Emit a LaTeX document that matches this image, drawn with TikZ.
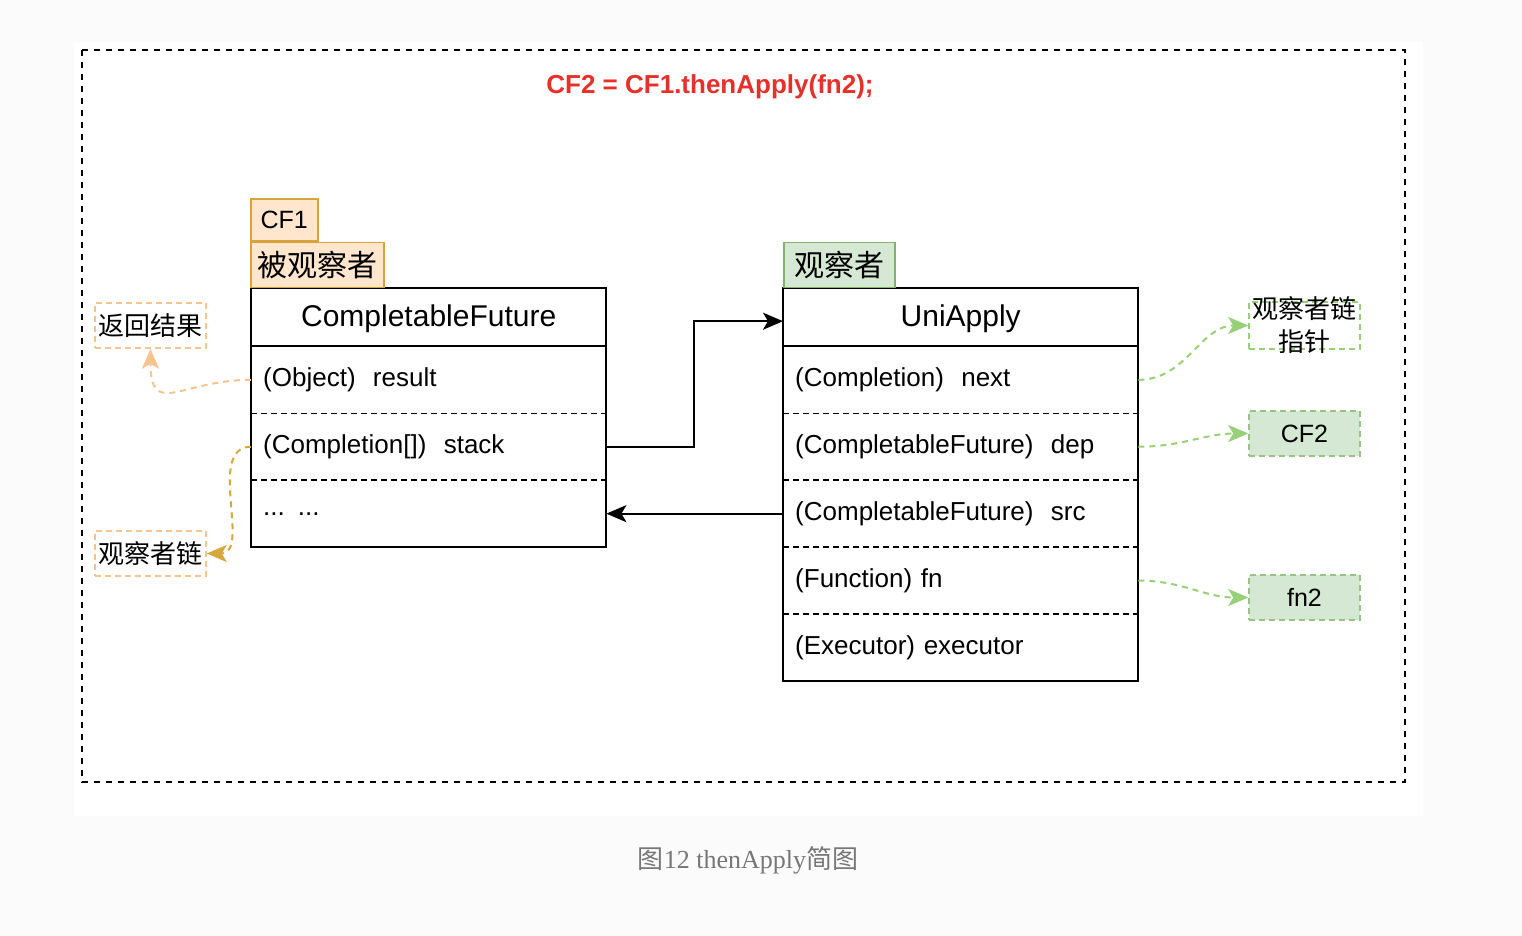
\documentclass[tikz,border=0pt]{standalone}
\usepackage{fontspec}
\setmainfont{Liberation Serif}
\setsansfont{Liberation Sans}
\newfontfamily\cjk{Noto Sans CJK SC}
\usetikzlibrary{arrows.meta,positioning,shapes}
\definecolor{pagebg}{HTML}{FBFBFB}
\definecolor{orfill}{HTML}{FFE6CC}
\definecolor{ordraw}{HTML}{D9A33A}
\definecolor{orlight}{HTML}{F8C48E}
\definecolor{orarrow}{HTML}{D6A83C}
\definecolor{grfill}{HTML}{D5E8D4}
\definecolor{grdraw}{HTML}{82B366}
\definecolor{grlight}{HTML}{97D077}
\definecolor{titred}{HTML}{E8302A}
\definecolor{capgray}{HTML}{777777}

\begin{document}
\begin{tikzpicture}[x=1pt,y=-1pt,>={Stealth[length=20pt,width=17pt,inset=5pt]},
every node/.style={font=\sffamily, inner sep=0pt},
hd/.style={minimum width=355pt, minimum height=58pt, text height=22pt, text depth=4pt,
    font=\sffamily\fontsize{30}{34}\selectfont},
fld/.style={minimum width=355pt, minimum height=66.5pt, text width=331pt,
    align=left, inner xsep=12pt, font=\sffamily\fontsize{26}{30}\selectfont},
sep/.style={line width=1.5pt, dash pattern=on 6pt off 4pt},
orbox/.style={fill=orfill, draw=ordraw, line width=1.5pt, anchor=south west},
grbox/.style={fill=grfill, draw=grdraw, line width=1.5pt, anchor=south west},
notebox/.style={draw=orlight, line width=1.5pt, dash pattern=on 6pt off 4pt,
    minimum width=111pt, minimum height=45pt, font=\cjk\fontsize{26}{30}\selectfont},
outbox/.style={fill=grfill, draw=grdraw!80, line width=1.5pt, dash pattern=on 6pt off 4pt,
    minimum width=111pt, minimum height=45pt, font=\sffamily\fontsize{25}{30}\selectfont},
orlink/.style={->, line width=2pt, dash pattern=on 6pt off 5pt},
grlink/.style={->, grlight, line width=2pt, dash pattern=on 6pt off 5pt}]
\useasboundingbox (0,0) rectangle (1522,936);
\fill[pagebg] (0,0) rectangle (1522,936);
\fill[white] (74,42) rectangle (1423,816);
\draw[line width=2pt, dash pattern=on 6pt off 6pt] (82,50) rectangle (1405,782);

\node[text=titred, font=\sffamily\bfseries\fontsize{26}{30}\selectfont] (ttl) at (710,87) {CF2 = CF1.thenApply(fn2);};

% observed
\node[hd, anchor=north west] (cf) at (251,288) {CompletableFuture};
\node[fld, below=0pt of cf] (cfres) {(Object)\ \ result};
\node[fld, below=0pt of cfres] (cfstk) {(Completion[])\ \ stack};
\node[fld, below=0pt of cfstk] (cfetc) {... ...};
\draw[line width=2pt] (cf.north west) rectangle (cfetc.south east);
\draw[line width=2pt] (cf.south west) -- (cf.south east);
\draw[sep] (cfres.south west) -- (cfres.south east);
\draw[sep] (cfstk.south west) -- (cfstk.south east);
\node[orbox, minimum width=133pt, minimum height=45pt, font=\cjk\fontsize{30}{34}\selectfont]
    (obsd) at ([xshift=-1pt]cf.north west) {被观察者};
\node[orbox, minimum width=67pt, minimum height=42pt, font=\sffamily\fontsize{25}{30}\selectfont]
    (cf1) at (obsd.north west) {CF1};

% observer
\node[hd, anchor=north west] (ua) at (783,288) {UniApply};
\node[fld, below=0pt of ua] (uanext) {(Completion)\ \ next};
\node[fld, below=0pt of uanext] (uadep) {(CompletableFuture)\ \ dep};
\node[fld, below=0pt of uadep] (uasrc) {(CompletableFuture)\ \ src};
\node[fld, below=0pt of uasrc] (uafn) {(Function) fn};
\node[fld, below=0pt of uafn] (uaexe) {(Executor) executor};
\draw[line width=2pt] (ua.north west) rectangle (uaexe.south east);
\draw[line width=2pt] (ua.south west) -- (ua.south east);
\foreach \r in {uanext,uadep,uasrc,uafn}
  \draw[sep] (\r.south west) -- (\r.south east);
\node[grbox, minimum width=111pt, minimum height=45pt, font=\cjk\fontsize{30}{34}\selectfont]
    (obsr) at (ua.north west) {观察者};

\draw[->, line width=2pt] (cfstk.east) -- ++(88,0) |- ([yshift=-4pt]ua.west);
\draw[->, line width=2pt] (uasrc.west) -- (cfetc.east);

% notes left
\node[notebox] (ret) at (150.5,325.5) {返回结果};
\node[notebox] (chain) at (150.5,553.5) {观察者链};
\draw[orlink, orlight] (cfres.west) to[out=180,in=-90,looseness=1.7] (ret.south);
\draw[orlink, orarrow] (cfstk.west) to[out=180,in=0] (chain.east);

% notes right
\node[draw=grlight, line width=1.5pt, dash pattern=on 6pt off 4pt,
    minimum width=111pt, minimum height=47pt] (ptr) at (1304.5,325.5) {};
\node[align=center, font=\cjk\fontsize{26}{33}\selectfont] (ptrtxt) at (ptr.center) {观察者链\\指针};
\node[outbox] (cf2) at (1304.5,433.5) {CF2};
\node[outbox] (fn2) at (1304.5,597.5) {fn2};
\draw[grlink] (uanext.east) to[out=0,in=180] (ptr.west);
\draw[grlink] (uadep.east) to[out=0,in=180] (cf2.west);
\draw[grlink] (uafn.east) to[out=0,in=180] (fn2.west);

\node[text=capgray, font=\rmfamily\fontsize{26}{30}\selectfont] (cap) at (748,860) {{\cjk 图}12 thenApply{\cjk 简图}};
\end{tikzpicture}
\end{document}
